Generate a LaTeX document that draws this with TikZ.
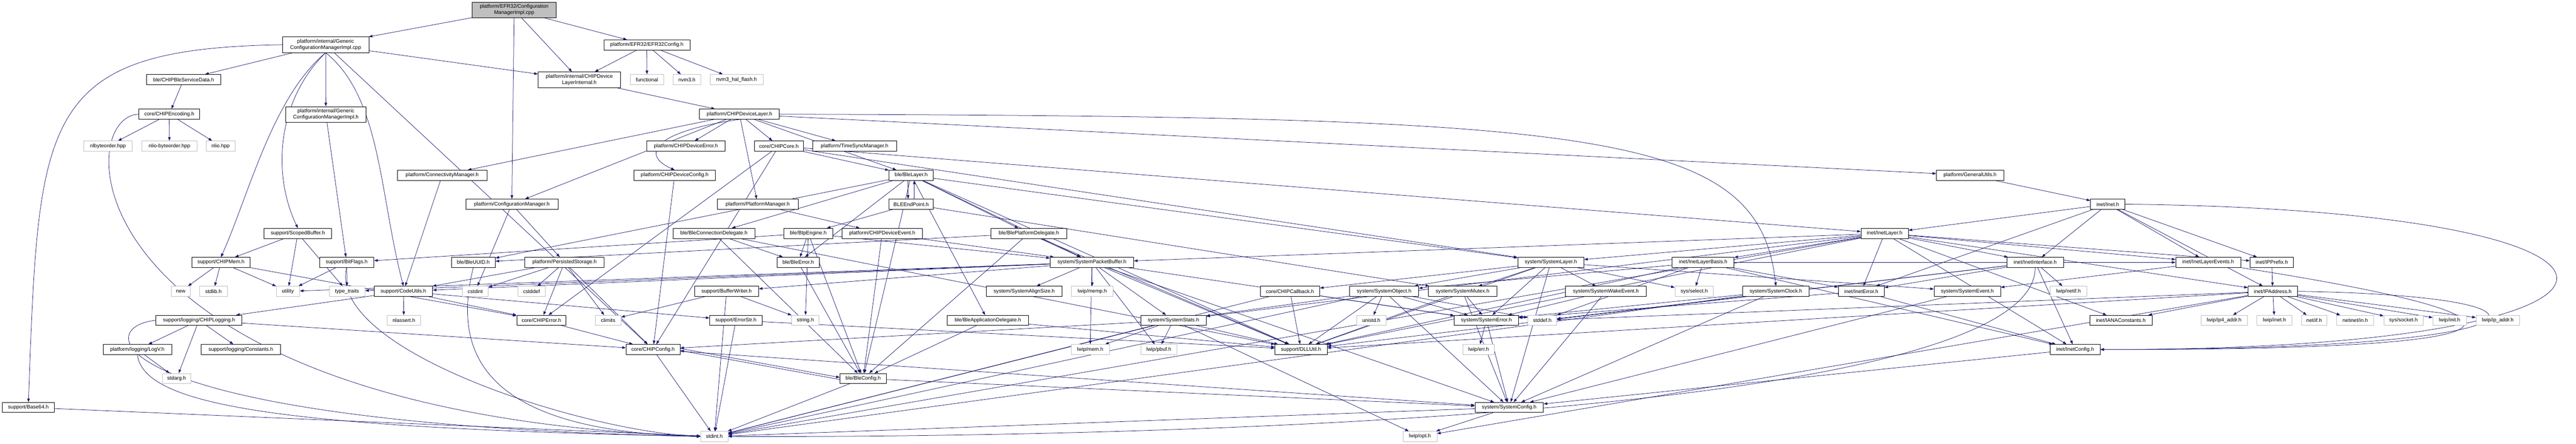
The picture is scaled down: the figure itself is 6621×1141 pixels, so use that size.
\documentclass[tikz,border=0pt]{standalone}
\usepackage{fontspec}
\setmainfont{Liberation Sans}
\usetikzlibrary{arrows.meta}
\definecolor{dblue}{HTML}{191970}
\pgfdeclarelayer{bg}
\pgfsetlayers{bg,main}

\begin{document}
\begin{tikzpicture}[x=0.75pt, y=-0.75pt,
  file/.style={draw=black, line width=0.75pt, fill=white, inner sep=1pt, minimum height=19.5pt, font=\fontsize{10}{12}\selectfont},
  ext/.style={file, draw=gray!50},
  two/.style={align=center, minimum height=30pt},
  bw/.style={minimum width=#1*0.75pt},
  dep/.style={draw=dblue, line width=0.75pt, -{Triangle[length=7pt,width=5pt]}}]
\useasboundingbox (0,0) rectangle (6621,1141);

% Top of the graph
\node[file, two, fill=gray!50, bw=215] (root) at (1321.5,25.5) {platform/EFR32/Configuration\\ManagerImpl.cpp};
\node[file, two, bw=222] (gcmcpp) at (837,115) {platform/internal/Generic\\ConfigurationManagerImpl.cpp};
\node[file, bw=221] (efrcfg) at (1662.5,115.5) {platform/EFR32/EFR32Config.h};
\node[file, bw=190] (blesd) at (472,204.5) {ble/CHIPBleServiceData.h};
\node[file, two, bw=212] (dli) at (1489,205) {platform/internal/CHIPDevice\\LayerInternal.h};
\node[ext, bw=86] (functional) at (1663,204.5) {functional};
\node[ext, bw=71] (nvmthree) at (1765.5,204.5) {nvm3.h};
\node[ext, bw=136] (nvmhal) at (1893,204.5) {nvm3\_hal\_flash.h};
\node[file, bw=156] (enc) at (435,293.5) {core/CHIPEncoding.h};
\node[file, two, bw=207] (gcmh) at (837.5,294) {platform/internal/Generic\\ConfigurationManagerImpl.h};
\node[file, bw=205] (dl) at (1900.5,293.5) {platform/CHIPDeviceLayer.h};

% Device layer
\node[ext, bw=125] (nlbyte) at (277.5,375.5) {nlbyteorder.hpp};
\node[ext, bw=141] (nliobyte) at (435.5,375.5) {nlio-byteorder.hpp};
\node[ext, bw=74] (nlio) at (567,375.5) {nlio.hpp};
\node[file, bw=200] (deverr) at (1763,375.5) {platform/CHIPDeviceError.h};
\node[file, bw=126] (core) at (2002,375.5) {core/CHIPCore.h};
\node[file, bw=215] (tsync) at (2196.5,375.5) {platform/TimeSyncManager.h};
\node[file, bw=231] (connmgr) at (1136.5,450.5) {platform/ConnectivityManager.h};
\node[file, bw=210] (devcfg) at (1734,450.5) {platform/CHIPDeviceConfig.h};
\node[file, bw=114] (blelayer) at (2342,450.5) {ble/BleLayer.h};
\node[file, bw=173] (genutils) at (5063.5,450.5) {platform/GeneralUtils.h};
\node[file, bw=237] (cfgmgr) at (1315.5,525) {platform/ConfigurationManager.h};
\node[file, bw=207] (platmgr) at (1947.5,525) {platform/PlatformManager.h};
\node[file, bw=114] (bleep) at (2342,525) {BLEEndPoint.h};
\node[file, bw=89] (inet) at (5417.5,525) {inet/Inet.h};

% Middle rows
\node[file, bw=173] (scoped) at (765.5,600) {support/ScopedBuffer.h};
\node[file, bw=210] (conndel) at (1835,600) {ble/BleConnectionDelegate.h};
\node[file, bw=125] (btp) at (2077.5,600) {ble/BtpEngine.h};
\node[file, bw=207] (devevent) at (2267.5,600) {platform/CHIPDeviceEvent.h};
\node[file, bw=195] (platdel) at (2644.5,600) {ble/BlePlatformDelegate.h};
\node[file, bw=122] (inetlayer) at (4844,600) {inet/InetLayer.h};
\node[file, bw=150] (chipmem) at (568,674.5) {support/CHIPMem.h};
\node[file, bw=140] (bitflags) at (891,674.5) {support/BitFlags.h};
\node[file, bw=113] (bleuuid) at (1216.5,674.5) {ble/BleUUID.h};
\node[file, bw=204] (persist) at (1451,674.5) {platform/PersistedStorage.h};
\node[file, bw=109] (bleerr) at (2051.5,674.5) {ble/BleError.h};
\node[file, bw=215] (syspb) at (2806.5,674.5) {system/SystemPacketBuffer.h};
\node[file, bw=170] (syslayer) at (3986,674.5) {system/SystemLayer.h};
\node[file, bw=159] (basis) at (4377.5,674.5) {inet/InetLayerBasis.h};
\node[file, bw=146] (inetif) at (5231,674.5) {inet/InetInterface.h};
\node[file, bw=167] (layerev) at (5675.5,674.5) {inet/InetLayerEvents.h};
\node[file, bw=112] (ipprefix) at (5839,674.5) {inet/IPPrefix.h};
\node[ext, bw=49] (new) at (464.5,749) {new};
\node[ext, bw=71] (stdlib) at (548.5,749) {stdlib.h};
\node[ext, bw=60] (utility) at (740,749) {utility};
\node[ext, bw=92] (typetraits) at (892,749) {type\_traits};
\node[file, bw=150] (codeutils) at (1037,749) {support/CodeUtils.h};
\node[ext, bw=67] (cstdint) at (1221.5,749) {cstdint};
\node[ext, bw=70] (cstddef) at (1366,749) {cstddef};
\node[file, bw=165] (bufwriter) at (1867.5,749) {support/BufferWriter.h};
\node[file, bw=195] (alignsize) at (2632.5,749) {system/SystemAlignSize.h};
\node[ext, bw=107] (memp) at (2807.5,749) {lwip/memp.h};
\node[file, bw=153] (callback) at (3315.5,749) {core/CHIPCallback.h};
\node[file, bw=177] (sysobj) at (3557.5,749) {system/SystemObject.h};
\node[file, bw=176] (mutex) at (3759,749) {system/SystemMutex.h};
\node[file, bw=207] (wake) at (4127.5,749) {system/SystemWakeEvent.h};
\node[ext, bw=99] (select) at (4354.5,749) {sys/select.h};
\node[file, bw=171] (sysclock) at (4564.5,749) {system/SystemClock.h};
\node[file, bw=118] (ineterr) at (4784,749) {inet/InetError.h};
\node[file, bw=171] (sysevent) at (5056.5,749) {system/SystemEvent.h};
\node[ext, bw=95] (netif) at (5316.5,749) {lwip/netif.h};
\node[file, bw=127] (ipaddr) at (5841.5,749) {inet/IPAddress.h};

% Lower rows
\node[ext, bw=86] (nlassert) at (1038,823.5) {nlassert.h};
\node[file, bw=221] (logging) at (511.5,823.5) {support/logging/CHIPLogging.h};
\node[file, bw=127] (chiperr) at (1391.5,823.5) {core/CHIPError.h};
\node[ext, bw=66] (climits) at (1563,823.5) {climits};
\node[file, bw=135] (errstr) at (1891.5,823.5) {support/ErrorStr.h};
\node[ext, bw=70] (stringh) at (2070,823.5) {string.h};
\node[file, bw=210] (appdel) at (2539,823.5) {ble/BleApplicationDelegate.h};
\node[file, bw=168] (stats) at (3016,823.5) {system/SystemStats.h};
\node[ext, bw=75] (unistd) at (3524.5,823.5) {unistd.h};
\node[file, bw=165] (syserr) at (3820.5,823.5) {system/SystemError.h};
\node[ext, bw=74] (stddef) at (3964,823.5) {stddef.h};
\node[file, bw=160] (iana) at (5451,823.5) {inet/IANAConstants.h};
\node[ext, bw=119] (ipfour) at (5716.5,823.5) {lwip/ip4\_addr.h};
\node[ext, bw=90] (lwipinet) at (5846,823.5) {lwip/inet.h};
\node[ext, bw=66] (netifh) at (5948,823.5) {net/if.h};
\node[ext, bw=95] (netinetin) at (6053.5,823.5) {netinet/in.h};
\node[ext, bw=101] (socket) at (6177.5,823.5) {sys/socket.h};
\node[ext, bw=86] (lwipinit) at (6296,823.5) {lwip/init.h};
\node[ext, bw=112] (ipaddrh) at (6420,823.5) {lwip/ip\_addr.h};
\node[file, bw=176] (logv) at (353,898.5) {platform/logging/LogV.h};
\node[file, bw=204] (constants) at (619,898.5) {support/logging/Constants.h};
\node[file, bw=139] (chipcfg) at (1678.5,898.5) {core/CHIPConfig.h};
\node[ext, bw=98] (mem) at (2802,898.5) {lwip/mem.h};
\node[ext, bw=93] (pbuf) at (2978.5,898.5) {lwip/pbuf.h};
\node[file, bw=134] (dllutil) at (3344,898.5) {support/DLLUtil.h};
\node[ext, bw=81] (lwiperr) at (3800.5,898.5) {lwip/err.h};
\node[file, bw=129] (inetcfg) at (5333.5,898.5) {inet/InetConfig.h};
\node[ext, bw=74] (stdarg) at (454,973) {stdarg.h};
\node[file, bw=119] (bleconfig) at (2218.5,973) {ble/BleConfig.h};
\node[file, bw=134] (base64) at (73,1047.5) {support/Base64.h};
\node[file, bw=176] (syscfg) at (3879,1047.5) {system/SystemConfig.h};
\node[ext, bw=70] (stdint) at (1836,1122) {stdint.h};
\node[ext, bw=87] (opt) at (3649.5,1122) {lwip/opt.h};

\begin{pgfonlayer}{bg}
\fill[white] (0,0) rectangle (6621,1141);
% Straight includes
\foreach \s/\t in {root/gcmcpp, root/cfgmgr, root/dli, root/efrcfg,
    gcmcpp/blesd, gcmcpp/gcmh, gcmcpp/chipcfg, gcmcpp/dli,
    efrcfg/dli, efrcfg/functional, efrcfg/nvmthree, efrcfg/nvmhal, dli/dl, blesd/enc,
    enc/nlbyte, enc/nliobyte, enc/nlio, gcmh/bitflags,
    dl/connmgr, dl/cfgmgr, dl/deverr, dl/platmgr, dl/core, dl/tsync, dl/blelayer, dl/genutils,
    connmgr/codeutils, cfgmgr/cstdint, cfgmgr/persist, devcfg/chipcfg, platmgr/devevent,
    core/chiperr, core/chipcfg, core/inetlayer, core/syslayer, core/blelayer, genutils/inet,
    blelayer/bleconfig, blelayer/appdel, blelayer/platdel, blelayer/syspb, blelayer/syslayer,
    blelayer/bleuuid, blelayer/conndel, blelayer/bleerr, blelayer/dllutil,
    bleep/btp, bleep/mutex,
    inet/inetlayer, inet/ineterr, inet/inetif, inet/layerev, inet/ipprefix, inet/ipaddr,
    scoped/chipmem, scoped/utility, scoped/typetraits,
    conndel/bleconfig, conndel/bleerr, conndel/dllutil,
    btp/bitflags, btp/bleerr, btp/stringh, btp/bleconfig, btp/syspb,
    devevent/bleconfig, devevent/syspb,
    platdel/bleuuid, platdel/bleconfig, platdel/syspb, platdel/dllutil,
    inetlayer/basis, inetlayer/ineterr, inetlayer/inetif, inetlayer/syslayer, inetlayer/syspb,
    inetlayer/stats, inetlayer/iana, inetlayer/ipaddr, inetlayer/ipprefix, inetlayer/layerev,
    inetlayer/inetcfg, inetlayer/dllutil, inetlayer/stdint,
    chipmem/new, chipmem/stdlib, chipmem/utility, chipmem/chiperr,
    bitflags/utility, bitflags/typetraits,
    persist/codeutils, persist/cstdint, persist/cstddef, persist/chiperr, persist/chipcfg, persist/climits,
    bleerr/bleconfig,
    syspb/alignsize, syspb/memp, syspb/mem, syspb/pbuf, syspb/dllutil, syspb/bufwriter, syspb/codeutils,
    syspb/utility, syspb/typetraits, syspb/syscfg, syspb/syserr, syspb/stats,
    syslayer/callback, syslayer/sysobj, syslayer/mutex, syslayer/syserr, syslayer/wake, syslayer/select,
    syslayer/syscfg, syslayer/sysevent, syslayer/dllutil,
    basis/sysobj, basis/select, basis/inetcfg, basis/ineterr, basis/layerev, basis/dllutil, basis/stddef,
    inetif/ineterr, inetif/inetcfg, inetif/netif, inetif/dllutil, inetif/stddef,
    layerev/sysevent, ipprefix/ipaddr,
    codeutils/logging, codeutils/nlassert, codeutils/chiperr, codeutils/errstr,
    bufwriter/climits, bufwriter/stdint, bufwriter/stringh,
    callback/stdint, callback/dllutil, callback/syserr,
    sysobj/dllutil, sysobj/unistd, sysobj/syscfg, sysobj/syserr, sysobj/stddef, sysobj/stdint, sysobj/stats,
    mutex/dllutil, mutex/syscfg, mutex/syserr, wake/syscfg, wake/syserr,
    sysclock/syscfg, sysclock/syserr, sysclock/stdint,
    ineterr/inetcfg, ineterr/syserr, sysevent/syscfg,
    ipaddr/ipfour, ipaddr/lwipinet, ipaddr/netifh, ipaddr/netinetin, ipaddr/socket, ipaddr/lwipinit,
    ipaddr/ipaddrh, ipaddr/iana, ipaddr/dllutil, ipaddr/stddef, ipaddr/opt,
    logging/logv, logging/stdarg, logging/constants, logging/chipcfg,
    chiperr/chipcfg, errstr/stdint, errstr/dllutil, appdel/bleconfig, appdel/dllutil,
    stats/mem, stats/pbuf, stats/stdint, stats/opt, stats/dllutil, stats/chipcfg,
    syserr/lwiperr, syserr/syscfg, logv/stdarg, chipcfg/stdint, chipcfg/syscfg,
    bleconfig/stdint, bleconfig/syscfg, base64/stdint, syscfg/opt, syscfg/stdint, inetcfg/syscfg}
  \draw[dep] (\s) -- (\t);

% Curved includes
\draw[dep] (gcmcpp.west) .. controls (100,125) and (100,300) .. (base64.north);
\draw[dep] (gcmcpp.south) .. controls (700,250) and (640,500) .. (chipmem.north);
\draw[dep] (gcmcpp.south) .. controls (710,260) and (700,450) .. (scoped.north);
\draw[dep] (gcmcpp.south) .. controls (980,250) and (975,500) .. (codeutils.north);
\draw[dep] (dl.south) .. controls (1670,340) and (1650,400) .. (devcfg.north);
\draw[dep] (enc.west) .. controls (180,300) and (180,1060) .. (stdint.west);
\draw[dep] (logging.west) .. controls (230,840) and (260,1090) .. (stdint.west);
\draw[dep] (logv.south) .. controls (370,1040) and (700,1100) .. (stdint.west);
\draw[dep] (bleuuid.south) .. controls (1150,950) and (1300,1110) .. (stdint.west);
\draw[dep] (bitflags.south) .. controls (840,900) and (1500,1110) .. (stdint.west);
\draw[dep] (dl.east) .. controls (4100,300) and (4520,330) .. (sysclock.north);
\draw[dep] (inetif.south) .. controls (5230,1100) and (2600,1125) .. (stdint.east);
\draw[dep] (inet.east) .. controls (6950,540) and (6950,900) .. (inetcfg.east);
\draw[dep] (layerev.south east) .. controls (6600,820) and (6550,900) .. (inetcfg.east);
\draw[dep] (ipaddr.east) .. controls (6650,760) and (6600,900) .. (inetcfg.east);
% Cycles
\draw[dep] ([xshift=-6pt]blelayer.south) -- ([xshift=-6pt]bleep.north);
\draw[dep] ([xshift=6pt]bleep.north) -- ([xshift=6pt]blelayer.south);
\draw[dep] ([yshift=2pt]chipcfg.east) -- ([yshift=2pt]bleconfig.west);
\draw[dep] ([yshift=-2pt]bleconfig.west) -- ([yshift=-2pt]chipcfg.east);
\end{pgfonlayer}
\end{tikzpicture}
\end{document}
